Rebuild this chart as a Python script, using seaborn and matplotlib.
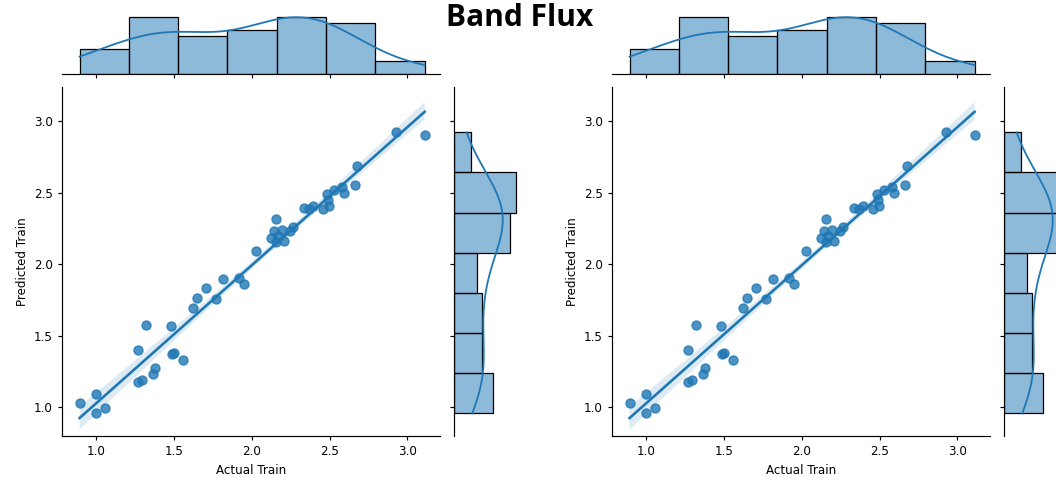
import numpy as np
import pandas as pd
import matplotlib
matplotlib.use("Agg")
import matplotlib.pyplot as plt
import seaborn as sns

actual_train = [0.893, 0.996, 1.000, 1.058, 1.266, 1.317, 1.266, 1.296, 1.368, 1.375,
                1.482, 1.486, 1.503, 1.561, 1.625, 1.649, 1.704, 1.773, 1.816, 1.919,
                1.953, 2.028, 2.126, 2.141, 2.155, 2.154, 2.171, 2.197, 2.210, 2.244,
                2.266, 2.338, 2.368, 2.396, 2.458, 2.482, 2.488, 2.499, 2.531, 2.582,
                2.595, 2.664, 2.675, 2.925, 3.111]
predicted_train = [1.033, 1.093, 0.958, 0.998, 1.399, 1.574, 1.177, 1.189, 1.235, 1.278,
                   1.569, 1.371, 1.378, 1.329, 1.695, 1.765, 1.833, 1.758, 1.898, 1.903,
                   1.863, 2.092, 2.186, 2.232, 2.316, 2.153, 2.195, 2.237, 2.160, 2.230,
                   2.260, 2.391, 2.389, 2.407, 2.384, 2.494, 2.449, 2.410, 2.522, 2.538,
                   2.498, 2.552, 2.687, 2.923, 2.907]

df = pd.DataFrame({"Actual Train": actual_train, "Predicted Train": predicted_train})

plt.rcParams["font.size"] = 8.6
plt.rcParams["xtick.labelsize"] = 8.6
plt.rcParams["ytick.labelsize"] = 8.6
plt.rcParams["axes.labelsize"] = 8.6
plt.rcParams["axes.linewidth"] = 0.85
plt.rcParams["xtick.major.width"] = 0.85
plt.rcParams["ytick.major.width"] = 0.85
plt.rcParams["xtick.major.size"] = 3.0
plt.rcParams["ytick.major.size"] = 3.0

W, H = 1056, 486
fig = plt.figure(figsize=(W / 100, H / 100), dpi=100)

for off in [62, 612]:
    ax = fig.add_axes([off / W, 50 / H, 378 / W, 349 / H])
    axx = fig.add_axes([off / W, 412 / H, 378 / W, 60 / H], sharex=ax)
    axy = fig.add_axes([(off + 392) / W, 50 / H, 65 / W, 349 / H], sharey=ax)

    sns.regplot(data=df, x="Actual Train", y="Predicted Train", ax=ax, seed=0,
                scatter_kws={"s": 42}, line_kws={"linewidth": 1.9})
    sns.histplot(data=df, x="Actual Train", ax=axx, bins=7, kde=True,
                 edgecolor="black", linewidth=0.9, line_kws={"linewidth": 1.3})
    sns.histplot(data=df, y="Predicted Train", ax=axy, bins=7, kde=True,
                 edgecolor="black", linewidth=0.9, line_kws={"linewidth": 1.3})

    ax.set_xlim(0.78, 3.21)
    ax.set_ylim(0.80, 3.24)
    ax.set_xticks([1.0, 1.5, 2.0, 2.5, 3.0])
    ax.set_yticks([1.0, 1.5, 2.0, 2.5, 3.0])
    sns.despine(ax=ax)

    axx.set_ylim(0, 9 * 1.05)
    axx.tick_params(labelbottom=False)
    axx.yaxis.set_visible(False)
    axx.set_xlabel("")
    sns.despine(ax=axx, left=True)

    axy.set_xlim(0, 11 * 1.05)
    axy.tick_params(labelleft=False)
    axy.xaxis.set_visible(False)
    axy.set_ylabel("")
    sns.despine(ax=axy, bottom=True)

fig.text(520 / W, 1 - 17.5 / H, "Band Flux", ha="center", va="center",
         fontsize=21.5, fontweight="bold", family=["Open Sans", "DejaVu Sans"])

fig.savefig("out.png", dpi=100)
